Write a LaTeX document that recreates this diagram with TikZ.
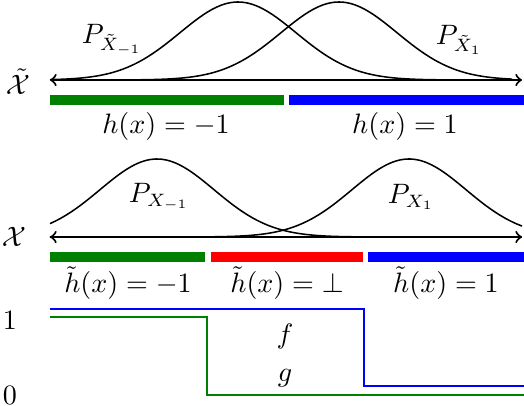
\documentclass[tikz,border=0pt]{standalone}
\usepackage{amsmath,amssymb}
\usepackage{xcolor}
\usetikzlibrary{positioning}

\definecolor{dgreen}{RGB}{0,128,0}
\tikzset{
    axis/.style={<->, line width=0.8pt},
    bell/.style={line width=0.6pt, samples=90, smooth},
    bar/.style={line width=3.7pt},
    level/.style={line width=0.85pt},
}

\begin{document}
\begin{tikzpicture}[x=0.39pt, y=-0.39pt, >=to, font=\fontsize{10.6}{12}\selectfont, every node/.style={inner sep=0pt}]
    \useasboundingbox (0, 0) rectangle (524, 406);

    % top: shifted space
    \coordinate (tl) at (50, 80);
    \coordinate (tr) at (522, 80);
    \draw[bell] plot[domain=50:512] (\x, {80 - 78*exp(-0.5*((\x-238)/58)^2)});
    \draw[bell] plot[domain=60:512] (\x, {80 - 78*exp(-0.5*((\x-339)/58)^2)});
    \draw[axis] (tl) -- (tr);
    \node (xt) at (18, 82) {$\tilde{\mathcal{X}}$};
    \node (pxtm) at (112, 40) {$P_{\tilde{X}_{-1}}$};
    \node (pxtp) at (459, 40) {$P_{\tilde{X}_1}$};

    \draw[bar, dgreen] (50, 100) -- (284, 100);
    \draw[bar, blue] (289, 100) -- (524, 100);
    \node (hm) at (166, 126) {$h(x) = -1$};
    \node (hp) at (405, 126) {$h(x) = 1$};

    % middle: original space
    \coordinate (ml) at (50, 237);
    \coordinate (mr) at (522, 237);
    \draw[bell] plot[domain=50:522] (\x, {237 - 78*exp(-0.5*((\x-157)/57)^2)});
    \draw[bell] plot[domain=50:522] (\x, {237 - 78*exp(-0.5*((\x-409)/57)^2)});
    \draw[axis] (ml) -- (mr);
    \node (xs) at (14, 237) {$\mathcal{X}$};
    \node (pxm) at (159, 197) {$P_{X_{-1}}$};
    \node (pxp) at (411, 197) {$P_{X_1}$};

    \draw[bar, dgreen] (50, 257) -- (205, 257);
    \draw[bar, red] (211, 257) -- (363, 257);
    \draw[bar, blue] (368, 257) -- (524, 257);
    \node (htm) at (128, 283) {$\tilde{h}(x) = -1$};
    \node (htb) at (287, 283) {$\tilde{h}(x) = \bot$};
    \node (htp) at (446, 283) {$\tilde{h}(x) = 1$};

    % bottom: step functions
    \node (one) at (10, 320) {$1$};
    \node (zero) at (10, 395) {$0$};
    \draw[level, blue] (50, 309) -- (364, 309) -- (364, 386) -- (524, 386);
    \draw[level, dgreen] (50, 317) -- (207, 317) -- (207, 395) -- (524, 395);
    \node (f) at (285, 336) {$f$};
    \node (g) at (285, 378) {$g$};
\end{tikzpicture}
\end{document}
